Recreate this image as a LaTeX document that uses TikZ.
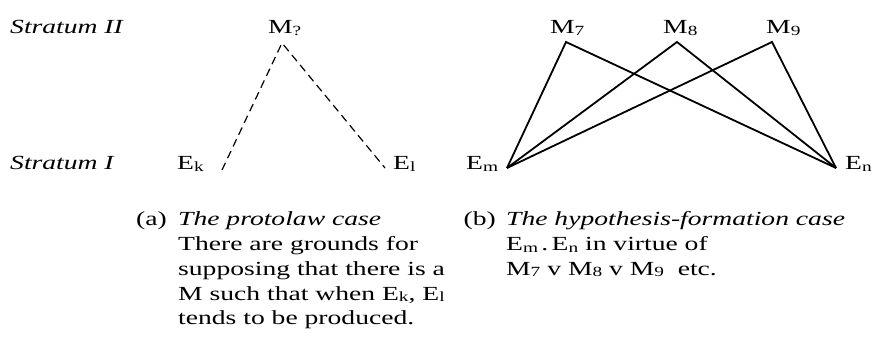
\documentclass[tikz,border=0pt]{standalone}
\usepackage{fontspec}
\setmainfont[FakeStretch=1.38]{Liberation Serif}
\usetikzlibrary{calc}
\newcommand\lsub[1]{\raisebox{-1.5pt}{\fontsize{14}{14}\selectfont #1}}
\begin{document}
\begin{tikzpicture}[x=1pt,y=-1pt,
  txt/.style={anchor=base west,inner sep=0pt,font=\fontsize{20}{24.75}\selectfont},
  captxt/.style={txt,align=left},
  tag/.style={txt,anchor=base east},
  link/.style={line width=1.8pt},
  dlink/.style={line width=1.2pt,dash pattern=on 8pt off 5pt}]
\useasboundingbox (0,0) rectangle (875,352);
% stratum labels
\node[txt] (s2) at (10,34) {\textit{Stratum II}};
\node[txt] (s1) at (10,170) {\textit{Stratum I}};
% (a)
\node[txt] (mq) at (268,34) {M\lsub{?}};
\node[txt] (ek) at (177,170) {E\lsub{k}};
\node[txt] (el) at (393,170) {E\lsub{l}};
\coordinate (mqp) at (282,43);
\coordinate (ekp) at (222,170);
\coordinate (elp) at (385,168);
\draw[dlink] (ekp) -- (mqp) -- (elp);
% (b)
\node[txt] (m7) at (550,34) {M\lsub{7}};
\node[txt] (m8) at (663,34) {M\lsub{8}};
\node[txt] (m9) at (766,34) {M\lsub{9}};
\node[txt] (em) at (466,170) {E\lsub{m}};
\node[txt] (en) at (845,170) {E\lsub{n}};
\coordinate (m7p) at (566,42);
\coordinate (m8p) at (677,42);
\coordinate (m9p) at (772,42);
\coordinate (emp) at (507,168);
\coordinate (enp) at (836,168);
\draw[link,line join=miter] (emp) -- (m7p) -- (enp);
\draw[link,line join=miter] (emp) -- (m8p) -- (enp);
\draw[link,line join=miter] (emp) -- (m9p) -- (enp);
% captions
\node[tag] (la) at (167,226) {(a)};
\node[captxt] (ca) at (178,325) {\textit{The protolaw case}\\There are grounds for\\supposing that there is a\\M such that when E\lsub{k}, E\lsub{l}\\tends to be produced.};
\node[tag] (lb) at (496,226) {(b)};
\node[captxt] (cb) at (506,275.5) {\textit{The hypothesis-formation case}\\E\lsub{m}\,.\,E\lsub{n} in virtue of\\M\lsub{7} v M\lsub{8} v M\lsub{9}\ \ etc.};
\end{tikzpicture}
\end{document}
